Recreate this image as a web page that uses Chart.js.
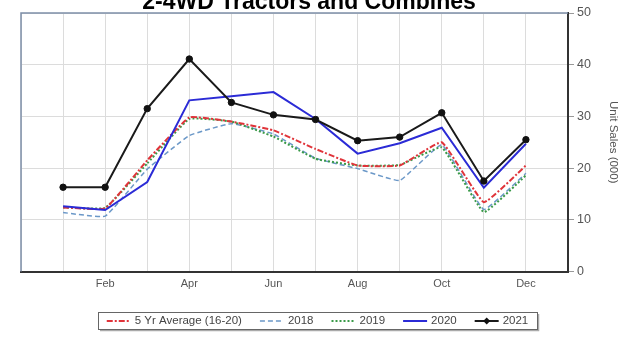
<!DOCTYPE html>
<html>
<head>
<meta charset="utf-8">
<script src="https://cdn.jsdelivr.net/npm/chart.js@4.4.1/dist/chart.umd.min.js"></script>
<style>
  html, body { margin: 0; padding: 0; background: #fff; overflow: hidden; }
  #wrap { position: relative; width: 624px; height: 339px; }
</style>
</head>
<body>
<div id="wrap"><canvas id="tractorChart" width="624" height="339"></canvas></div>
<script>
// ---------------------- DATA -------------------------
const chartTitle = '2-4WD Tractors and Combines';
const monthLabels = ['Jan','Feb','Mar','Apr','May','Jun','Jul','Aug','Sep','Oct','Nov','Dec'];
const seriesNames = ['5 Yr Average (16-20)', '2018', '2019', '2020', '2021'];

// unit sales (000)
const avg5yr   = [12.4, 12.2, 21.5, 29.8, 29.0, 27.3, 23.7, 20.5, 20.5, 25.0, 13.4, 20.5];
const sales2018 = [11.4, 10.7, 19.8, 26.3, 28.6, 26.6, 21.9, 19.9, 17.6, 24.5, 12.0, 19.0];
const sales2019 = [12.4, 12.3, 20.9, 29.5, 29.0, 26.1, 21.8, 20.5, 20.6, 24.0, 11.5, 18.6];
const sales2020 = [12.6, 11.9, 17.3, 33.1, 33.9, 34.7, 29.5, 22.8, 24.8, 27.8, 16.2, 24.7];
const sales2021 = [16.3, 16.3, 31.5, 41.1, 32.7, 30.3, 29.4, 25.3, 26.0, 30.7, 17.5, 25.5];

const yTicks = [0, 10, 20, 30, 40, 50];

// ---------------------- HELPERS -------------------------
const toPoints = (values) => values.map((v, i) => ({ x: i + 1, y: v }));

Chart.defaults.font.family = "'Liberation Sans', Arial, sans-serif";
Chart.defaults.color = '#555';

// frame: light top/left edge (bottom/right come from the axis borders) + clipped title
const frameLines = {
      id: 'frameLines',
      afterDraw(chart) {
            const { ctx, chartArea: a } = chart;
            ctx.save();
            ctx.strokeStyle = '#7d8ea8';
            ctx.lineWidth = 1.5;
            ctx.beginPath();
            ctx.moveTo(a.left, a.bottom);
            ctx.lineTo(a.left, a.top);
            ctx.lineTo(a.right, a.top);
            ctx.stroke();

            // title sits half above the canvas edge, like the source image
            ctx.font = "bold 23px 'Liberation Sans', Arial, sans-serif";
            ctx.fillStyle = '#000';
            ctx.textAlign = 'center';
            ctx.textBaseline = 'alphabetic';
            ctx.fillText(chartTitle, 309, 9);
            ctx.restore();
      }
};

// boxed legend under the chart
const boxedLegend = {
      id: 'boxedLegend',
      afterDraw(chart) {
            const ctx = chart.ctx;
            const sets = chart.data.datasets;
            const box = { x: 98, y: 312, w: 439, h: 17 };
            const lineLen = 24, textGap = 4, itemGap = 18;

            ctx.save();
            // shadow + border
            ctx.strokeStyle = '#aaa';
            ctx.lineWidth = 1.5;
            ctx.beginPath();
            ctx.moveTo(box.x + 2, box.y + box.h + 1.5);
            ctx.lineTo(box.x + box.w + 1.5, box.y + box.h + 1.5);
            ctx.lineTo(box.x + box.w + 1.5, box.y + 2);
            ctx.stroke();
            ctx.strokeStyle = '#666';
            ctx.lineWidth = 1;
            ctx.strokeRect(box.x + 0.5, box.y + 0.5, box.w, box.h);

            ctx.font = "11.5px 'Liberation Sans', Arial, sans-serif";
            ctx.textBaseline = 'middle';
            ctx.fillStyle = '#444';

            let total = 0;
            sets.forEach((ds, i) => {
                  total += lineLen + textGap + ctx.measureText(ds.label).width;
                  if (i < sets.length - 1) total += itemGap;
            });
            let x = box.x + box.w / 2 - total / 2;
            const cy = box.y + box.h / 2 + 0.5;

            sets.forEach(ds => {
                  ctx.save();
                  ctx.strokeStyle = ds.borderColor;
                  ctx.lineWidth = ds.borderWidth;
                  ctx.setLineDash(ds.borderDash || []);
                  ctx.beginPath();
                  ctx.moveTo(x, cy);
                  ctx.lineTo(x + lineLen, cy);
                  ctx.stroke();
                  if (ds.pointRadius > 0) {
                        const r = 3.5;
                        const mx = x + lineLen / 2;
                        ctx.setLineDash([]);
                        ctx.fillStyle = ds.pointBackgroundColor;
                        ctx.beginPath();
                        ctx.moveTo(mx, cy - r);
                        ctx.lineTo(mx + r, cy);
                        ctx.lineTo(mx, cy + r);
                        ctx.lineTo(mx - r, cy);
                        ctx.closePath();
                        ctx.fill();
                  }
                  ctx.restore();
                  x += lineLen + textGap;
                  ctx.fillText(ds.label, x, cy);
                  x += ctx.measureText(ds.label).width + itemGap;
            });
            ctx.restore();
      }
};

// ---------------------- CHART -------------------------
const ctx = document.getElementById('tractorChart').getContext('2d');

const tractorChart = new Chart(ctx, {
      type: 'line',
      data: {
            datasets: [
            {
                  label: seriesNames[0],
                  data: toPoints(avg5yr),
                  borderColor: '#e0343a',
                  borderWidth: 2,
                  borderDash: [6, 2, 2, 2],
                  tension: 0.1,
                  pointRadius: 0,
                  order: 2
            },
            {
                  label: seriesNames[1],
                  data: toPoints(sales2018),
                  borderColor: '#6b98c8',
                  borderWidth: 1.5,
                  borderDash: [5, 3],
                  tension: 0.1,
                  pointRadius: 0,
                  order: 4
            },
            {
                  label: seriesNames[2],
                  data: toPoints(sales2019),
                  borderColor: '#3a9a48',
                  borderWidth: 2,
                  borderDash: [2, 2],
                  tension: 0.1,
                  pointRadius: 0,
                  order: 3
            },
            {
                  label: seriesNames[3],
                  data: toPoints(sales2020),
                  borderColor: '#2b2bd6',
                  borderWidth: 2,
                  tension: 0,
                  pointRadius: 0,
                  order: 1
            },
            {
                  label: seriesNames[4],
                  data: toPoints(sales2021),
                  borderColor: '#1a1a1a',
                  borderWidth: 2,
                  tension: 0,
                  pointStyle: 'circle',
                  pointRadius: 3.2,
                  pointBackgroundColor: '#111',
                  pointBorderColor: '#111',
                  pointBorderWidth: 1,
                  order: 0
            }
            ]
      },
      options: {
            responsive: false,
            animation: false,
            devicePixelRatio: 1,
            layout: { padding: { left: 21, right: 0, top: 13, bottom: 47.5 } },
            scales: {
                  x: {
                        type: 'linear',
                        min: 0,
                        max: 13,
                        afterFit: (scale) => { scale.height = 20; },
                        ticks: {
                              stepSize: 1,
                              autoSkip: false,
                              maxRotation: 0,
                              padding: 6,
                              color: '#555',
                              font: { size: 11 },
                              callback: (value) => (value % 2 === 0 && value >= 2 && value <= 12) ? monthLabels[value - 1] : ''
                        },
                        grid: { color: '#dcdcdc', lineWidth: 1, drawTicks: false },
                        border: { color: '#333', width: 2 }
                  },
                  y: {
                        position: 'right',
                        min: yTicks[0],
                        max: yTicks[yTicks.length - 1],
                        afterFit: (scale) => { scale.width = 56; },
                        ticks: {
                              stepSize: 10,
                              padding: 3,
                              color: '#555',
                              font: { size: 12.5 }
                        },
                        grid: { color: '#dcdcdc', lineWidth: 1, tickLength: 6, tickColor: '#999' },
                        border: { color: '#333', width: 2 },
                        title: {
                              display: true,
                              text: 'Unit Sales (000)',
                              color: '#555',
                              font: { size: 11.5 },
                              padding: { top: 4, bottom: 0 }
                        }
                  }
            },
            plugins: {
                  legend: { display: false },
                  tooltip: { enabled: false },
                  title: { display: false }
            }
      },
      plugins: [frameLines, boxedLegend]
});
</script>
</body>
</html>
